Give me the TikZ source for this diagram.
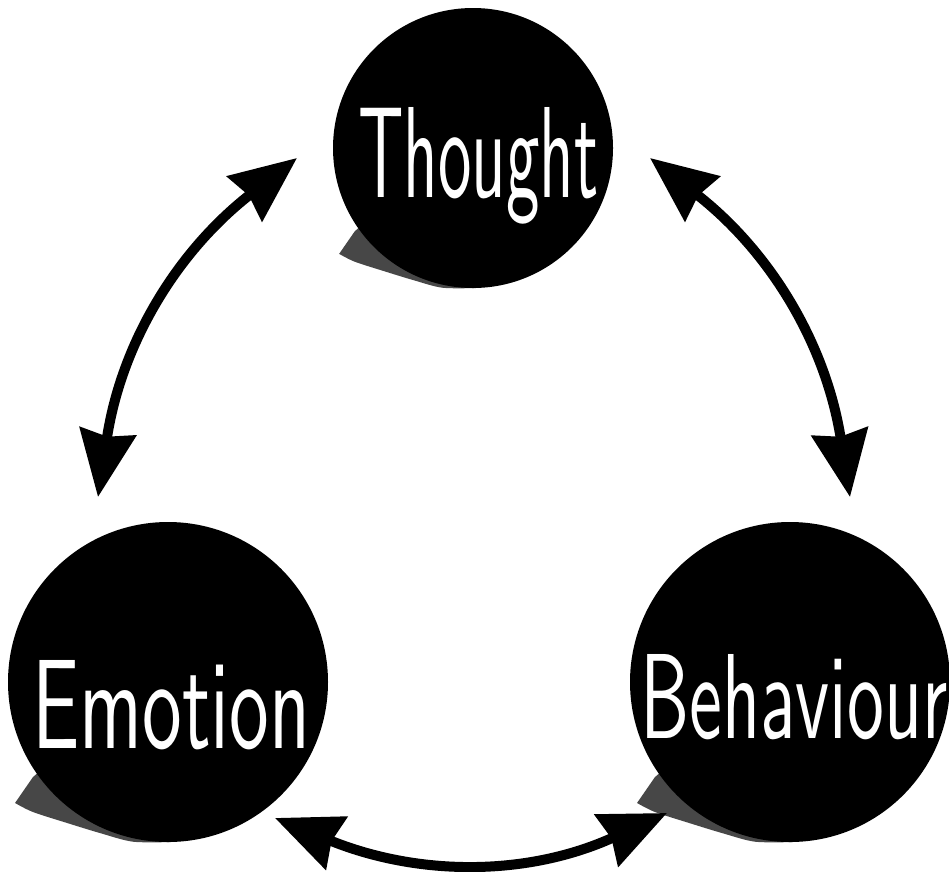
\documentclass[tikz,border=0pt]{standalone}
\usepackage{graphicx}
\usepackage{fontspec}
\usetikzlibrary{arrows.meta}
\definecolor{shadowc}{gray}{0.28}
\tikzset{
  ball/.style={circle, fill=black, draw=none, inner sep=0pt},
  balltext/.style={text=white, inner sep=0pt, anchor=base west, font=\sffamily},
  biarrow/.style={line width=10pt,
    {Stealth[length=66pt,width=56pt,inset=5pt]}-{Stealth[length=66pt,width=56pt,inset=5pt]}},
  ballshadow/.pic={
    \fill[shadowc] (-0.844,0.594) -- plot[smooth] coordinates
      {(-0.956,0.756) (-0.844,0.8125) (-0.631,0.881) (-0.425,0.944) (-0.219,0.998) (0.02,1.0)}
      -- (0.3,0.5) -- (-0.5,0.3) -- cycle;
  }
}
\begin{document}
\begin{tikzpicture}[x=1pt,y=-1pt]
\fill[white] (0,0) rectangle (949,871);
\useasboundingbox (0,0) rectangle (949,871);

% shadows
\pic[scale=140] at (473,148) {ballshadow};
\pic[scale=160] at (168,682) {ballshadow};
\pic[scale=160] at (790,682) {ballshadow};

% balls
\node[ball, minimum size=280pt] (thought) at (473,148) {};
\node[ball, minimum size=320pt] (emotion) at (168,682) {};
\node[ball, minimum size=320pt] (behaviour) at (790,682) {};

% labels
\node[balltext] (thoughtlabel) at (358,197) {\resizebox{240pt}{90pt}{Thought}};
\node[balltext] (emotionlabel) at (32,748) {\resizebox{278pt}{88pt}{Emotion}};
\node[balltext] (behaviourlabel) at (640,738) {\resizebox{307pt}{84pt}{Behaviour}};

% arrow ends
\coordinate (te) at (297,158);
\coordinate (et) at (98,497);
\coordinate (tb) at (650,158);
\coordinate (bt) at (850,497);
\coordinate (eb) at (275,818);
\coordinate (be) at (667,813);

\draw[biarrow] (et) .. controls (121,345) and (175.5,252.6) .. (te);
\draw[biarrow] (bt) .. controls (826,345) and (771.5,252.6) .. (tb);
\draw[biarrow] (eb) .. controls (417.6,876.2) and (526.9,876.8) .. (be);
\end{tikzpicture}
\end{document}
